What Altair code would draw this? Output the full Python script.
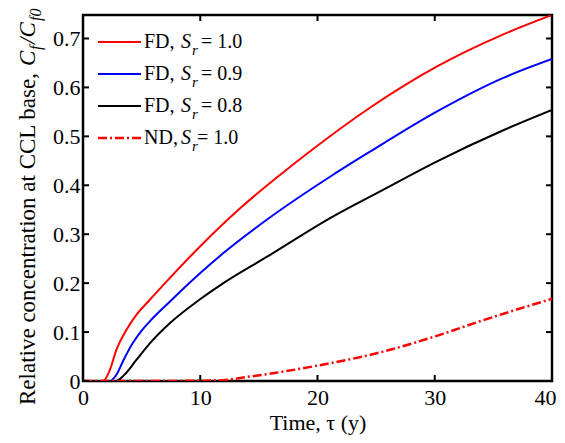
import altair as alt
import pandas as pd

# ---- data ----
t_fd10 = [0, 1.0, 1.7, 2.28, 2.84, 3.7, 4.55, 5.7, 7.0, 9.98, 13.4, 16.8, 19.4, 24.5, 30.2, 35.8, 40]
v_fd10 = [0, 0, 0, 0.022, 0.063, 0.104, 0.135, 0.166, 0.2, 0.275, 0.353, 0.421, 0.470, 0.559, 0.643, 0.708, 0.748]

t_fd09 = [0, 1.5, 2.3, 2.9, 3.4, 4.26, 5.0, 5.7, 7.4, 9.98, 12.0, 15.7, 21.3, 24.5, 30.2, 35.8, 40]
v_fd09 = [0, 0, 0, 0.015, 0.04, 0.078, 0.103, 0.122, 0.162, 0.220, 0.262, 0.330, 0.421, 0.469, 0.551, 0.619, 0.658]

t_fd08 = [0, 2.0, 2.8, 3.5, 4.55, 5.7, 7.4, 9.98, 11.66, 15.7, 21.3, 25.3, 30.2, 35.8, 40]
v_fd08 = [0, 0, 0, 0.012, 0.043, 0.077, 0.118, 0.167, 0.195, 0.254, 0.336, 0.387, 0.449, 0.512, 0.554]

t_nd10 = [0, 5, 11.4, 14.2, 19.9, 25.6, 30.0, 34.1, 40]
v_nd10 = [0, 0, 0.001, 0.009, 0.031, 0.060, 0.091, 0.124, 0.168]

x_ticks = [0, 10, 20, 30, 40]
y_ticks = [0, 0.1, 0.2, 0.3, 0.4, 0.5, 0.6, 0.7]
legend_names = ["FD", "FD", "FD", "ND"]
legend_sr = ["1.0", "0.9", "0.8", "1.0"]

FONT = "Liberation Serif"
W, H = 469, 366
RED, BLUE, BLACK = "#ff0000", "#0000ff", "#000000"
ND_DASH = [9, 3, 2, 3]

xscale = alt.Scale(domain=[0, 40], nice=False, zero=False)
yscale = alt.Scale(domain=[0, 0.748], nice=False, zero=False)

last_x = "datum.value == %s" % x_ticks[-1]
xaxis = alt.Axis(values=x_ticks, title="Time, τ (y)", tickSize=0, domain=False,
                 grid=False, labelFont=FONT, labelFontSize=22, labelColor="black",
                 labelPadding=6, labelFlush=False, labelOverlap=False,
                 labelAlign={"condition": {"test": last_x, "value": "right"}, "value": "center"},
                 labelOffset={"condition": {"test": last_x, "value": 4}, "value": 0},
                 titleFont=FONT, titleFontSize=22, titleFontWeight="normal",
                 titleColor="black", titlePadding=4)
yaxis = alt.Axis(values=y_ticks, title=None, tickSize=0, domain=False, grid=False,
                 labelFont=FONT, labelFontSize=22, labelColor="black",
                 labelPadding=3, labelFlush=False, labelOverlap=False,
                 labelExpr="datum.value == 0 ? '0' : format(datum.value, '.1f')")
X = alt.X("t:Q", scale=xscale, axis=xaxis)
Y = alt.Y("v:Q", scale=yscale, axis=yaxis)


def line_layer(t, v, color, dash=None, width=2):
    df = pd.DataFrame({"t": t, "v": v})
    kw = dict(color=color, strokeWidth=width, interpolate="monotone", clip=True)
    if dash:
        kw["strokeDash"] = dash
    return alt.Chart(df).mark_line(**kw).encode(x=X, y=Y)


layers = [
    line_layer(t_fd10, v_fd10, RED),
    line_layer(t_fd09, v_fd09, BLUE),
    line_layer(t_fd08, v_fd08, BLACK),
    line_layer(t_nd10, v_nd10, RED, dash=ND_DASH, width=2.5),
]

# inward ticks on all four sides
xt = pd.DataFrame({"t": x_ticks})
yt = pd.DataFrame({"v": y_ticks})
tick_style = dict(color="black", strokeWidth=2)
layers += [
    alt.Chart(xt).mark_rule(**tick_style).encode(x=X, y=alt.value(H), y2=alt.value(H - 6)),
    alt.Chart(xt).mark_rule(**tick_style).encode(x=X, y=alt.value(0), y2=alt.value(6)),
    alt.Chart(yt).mark_rule(**tick_style).encode(y=Y, x=alt.value(0), x2=alt.value(6)),
    alt.Chart(yt).mark_rule(**tick_style).encode(y=Y, x=alt.value(W), x2=alt.value(W - 6)),
]

one = pd.DataFrame({"d": [0]})


def txt(s, x, y, size=20, italic=False, angle=0, align="left", baseline="alphabetic"):
    kw = dict(text=s, font=FONT, fontSize=size, color="black", align=align,
              baseline=baseline)
    if italic:
        kw["fontStyle"] = "italic"
    if angle:
        kw["angle"] = angle
    return alt.Chart(one).mark_text(**kw).encode(x=alt.value(x), y=alt.value(y))


# manual legend
leg_colors = [RED, BLUE, BLACK, RED]
leg_dash = [None, None, None, ND_DASH]
row_y = [27, 59, 91, 123]
for i in range(4):
    ly = row_y[i]
    rkw = dict(color=leg_colors[i], strokeWidth=2.5 if leg_dash[i] else 2)
    if leg_dash[i]:
        rkw["strokeDash"] = leg_dash[i]
    layers.append(alt.Chart(one).mark_rule(**rkw).encode(
        x=alt.value(15), x2=alt.value(58), y=alt.value(ly)))
    layers.append(txt(legend_names[i] + ",", 61, ly + 6))
    layers.append(txt("S", 98, ly + 6, italic=True))
    layers.append(txt("r", 109, ly + 13, size=15, italic=True))
    eq_x = 118 if i < 3 else 114
    layers.append(txt("= " + legend_sr[i], eq_x, ly + 6))

# rotated y-axis title with subscripts
bx = -48
layers += [
    txt("Relative concentration at CCL base, ", bx, 390, size=23, angle=270),
    txt("C", bx, 51, size=23, italic=True, angle=270),
    txt("f", bx + 6, 35, size=16, italic=True, angle=270),
    txt("/C", bx, 29, size=23, italic=True, angle=270),
    txt("f0", bx + 6, 6, size=16, italic=True, angle=270),
]

chart = alt.layer(*layers).properties(
    width=W, height=H,
    autosize=alt.AutoSizeParams(type="none"),
    padding={"left": 75, "top": 7, "right": 5, "bottom": 58},
    background="white",
).configure_view(stroke="black", strokeWidth=2.5)

chart.save("out.html", embed_options={"renderer": "svg", "actions": False})
